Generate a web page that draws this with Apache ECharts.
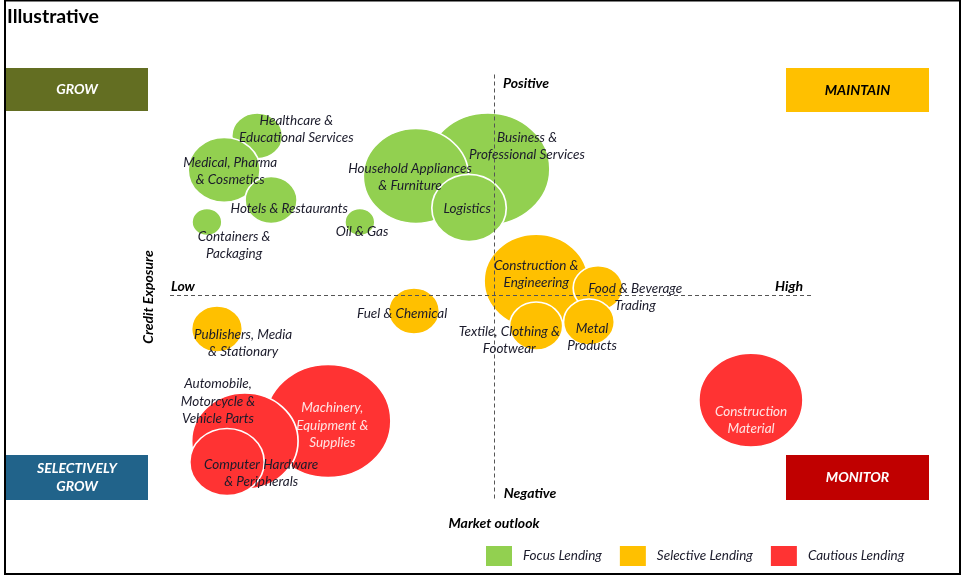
<!DOCTYPE html>
<html>
<head>
<meta charset="utf-8">
<script src="https://cdn.jsdelivr.net/npm/echarts@6/dist/echarts.min.js"></script>
<style>html,body{margin:0;padding:0;background:#fff}#c{width:963px;height:576px}</style>
</head>
<body>
<div id="c"></div>
<script>
// ---- Data (illustrative): market outlook (x), credit exposure (y), exposure weight (bubble area) ----
const sectors = [
  'Business &\nProfessional Services',
  'Household Appliances\n& Furniture',
  'Logistics',
  'Healthcare &\nEducational Services',
  'Medical, Pharma\n& Cosmetics',
  'Hotels & Restaurants',
  'Containers &\nPackaging',
  'Oil & Gas',
  'Construction &\nEngineering',
  'Food & Beverage\nTrading',
  'Textile, Clothing &\nFootwear',
  'Metal\nProducts',
  'Fuel & Chemical',
  'Publishers, Media\n& Stationary',
  'Machinery,\nEquipment &\nSupplies',
  'Automobile,\nMotorcycle &\nVehicle Parts',
  'Computer Hardware\n& Peripherals',
  'Construction\nMaterial'
];
const marketOutlook = [-0.19, -2.41, -0.77, -7.31, -8.33, -6.88, -8.86, -4.14, 1.30, 3.21, 1.30, 2.93, -2.47, -8.55, -5.12, -7.69, -8.24, 7.93];
const creditExposure = [5.60, 5.29, 3.87, 7.07, 5.56, 4.22, 3.24, 3.24, 0.62, 0.31, -1.38, -1.20, -0.71, -1.51, -5.60, -6.49, -7.42, -4.67];
const exposureWeight = [125, 90, 45, 21, 42, 22, 7.3, 7.3, 88, 20, 23, 21, 21, 21, 128, 92, 45, 88];
const lendingClass = ['Focus Lending','Focus Lending','Focus Lending','Focus Lending','Focus Lending','Focus Lending','Focus Lending','Focus Lending',
  'Selective Lending','Selective Lending','Selective Lending','Selective Lending','Selective Lending','Selective Lending',
  'Cautious Lending','Cautious Lending','Cautious Lending','Cautious Lending'];
const classes = ['Focus Lending','Selective Lending','Cautious Lending'];

// ---- Layout / style (not data) ----
const classColors = {'Focus Lending':'#92D050','Selective Lending':'#FFC000','Cautious Lending':'#FF3333'};
const labelOffsets = [[40,-22],[-5,2],[-1,1],[40,-6],[7,2],[19,9],[28,24],[3,10],[1,-6],[38,10],[-26,15],[4,16],[-11,3],[27,15],[5,5],[-26,-39],[35,12],[1,21]];
const lightLabel = {'Machinery,\nEquipment &\nSupplies':true,'Construction\nMaterial':true};
const ASPECT = 1.11;
const FONT = 'Lato, "Open Sans", sans-serif';
function bubbleSize(w){ const h = 10*Math.sqrt(w); return [h*ASPECT, h]; }

const series = classes.map(function(cls, ci){
  const data = [];
  sectors.forEach(function(s, i){
    if (lendingClass[i] !== cls) return;
    const sz = bubbleSize(exposureWeight[i]);
    data.push({
      name: s,
      value: [marketOutlook[i], creditExposure[i], exposureWeight[i]],
      label: {
        position: [sz[0]/2 + labelOffsets[i][0], sz[1]/2 + labelOffsets[i][1]],
        align:'center', verticalAlign:'middle',
        color: lightLabel[s] ? '#FFE4E4' : '#1b1b2b'
      }
    });
  });
  const sr = {
    name: cls,
    type: 'scatter',
    data: data,
    z: 2 + ci,
    symbol: 'circle',
    symbolSize: function(v){ return bubbleSize(v[2]); },
    itemStyle: {color: classColors[cls], borderColor:'#fff', borderWidth:1.6, opacity:1},
    label: {show:true, formatter:'{b}', fontFamily: FONT, fontStyle:'italic', fontSize:13.5, lineHeight:17.5, align:'center', verticalAlign:'middle'},
    emphasis: {disabled:true},
    labelLayout: {hideOverlap:false}
  };
  if (ci === 2) {
    sr.markLine = {
      silent: true, symbol: 'none', animation:false,
      lineStyle: {type:[4,3], color:'#555', width:1},
      label: {show:false},
      data: [
        [{coord:[-10,0]},{coord:[9.81,0]}],
        [{coord:[0,9.8]},{coord:[0,-9.11]}]
      ]
    };
  }
  return sr;
});

function boxText(x,y,w,h,fill,txt,tc){
  return [
    {type:'rect', shape:{x:x,y:y,width:w,height:h}, style:{fill:fill}, z:1},
    {type:'text', x:x+w/2, y:y+h/2, z:2, style:{text:txt, fill:tc, font:'italic bold 14px '+FONT, align:'center', verticalAlign:'middle', lineHeight:18}}
  ];
}
function lbl(x,y,txt,rot){
  const o = {type:'text', x:x, y:y, z:5, style:{text:txt, fill:'#000', font:'italic bold 14px '+FONT, align:'center', verticalAlign:'middle'}};
  if (rot) { o.rotation = rot; }
  return o;
}

const graphics = [].concat(
  [{type:'rect', shape:{x:5,y:0.5,width:955,height:573.5}, style:{fill:null, stroke:'#000', lineWidth:2}, z:0}],
  boxText(6,68,142,43,'#636E22','GROW','#fff'),
  boxText(786,68,143,44,'#FFC000','MAINTAIN','#000'),
  boxText(6,455,142,45,'#21638A','SELECTIVELY\nGROW','#fff'),
  boxText(786,455,143,45,'#C00000','MONITOR','#fff'),
  [
    lbl(526,83,'Positive'),
    lbl(530,493,'Negative'),
    lbl(183,286,'Low'),
    lbl(789,286,'High'),
    lbl(494,523,'Market outlook'),
    lbl(148,297,'Credit Exposure',Math.PI/2)
  ]
);

const chart = echarts.init(document.getElementById('c'), null, {renderer:'canvas'});
chart.setOption({
  animation: false,
  backgroundColor: '#fff',
  title: {text:'Illustrative', left:2, top:2, textStyle:{fontFamily:FONT, fontWeight:'bold', fontSize:19.5, color:'#000'}},
  grid: {left:170, right:145, top:70, bottom:56},
  xAxis: {type:'value', min:-10, max:10, show:false},
  yAxis: {type:'value', min:-10, max:10, show:false},
  legend: {
    data: classes, left:481, top:541, icon:'rect', itemWidth:26, itemHeight:20, itemGap:18,
    selectedMode:false,
    itemStyle:{borderWidth:0},
    textStyle:{fontFamily:FONT, fontStyle:'italic', fontSize:13.5, color:'#1b1b2b', padding:[0,0,0,6]}
  },
  graphic: graphics,
  series: series
});
</script>
</body>
</html>
